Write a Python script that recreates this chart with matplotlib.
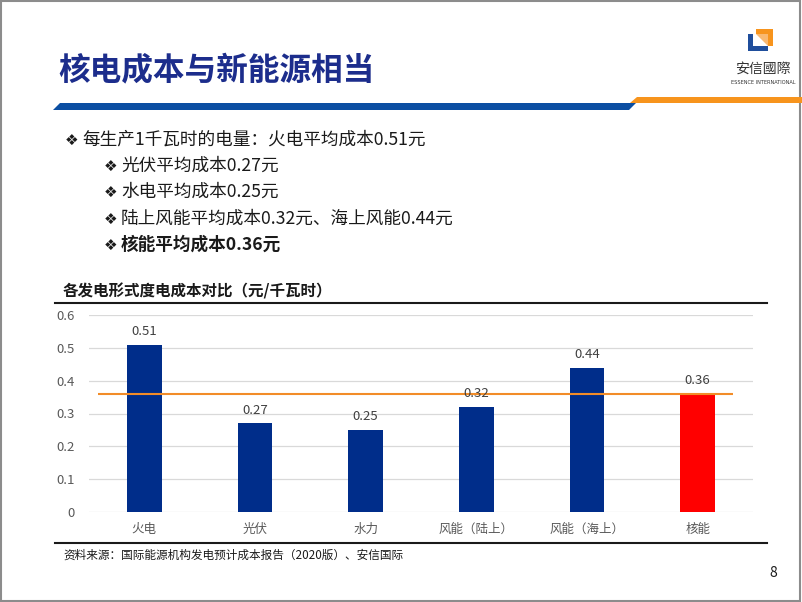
import matplotlib
matplotlib.use('Agg')
import matplotlib.pyplot as plt
from matplotlib.patches import Polygon, Rectangle

plt.rcParams['font.family'] = ['Noto Sans CJK SC', 'DejaVu Sans']

# data
categories = ['火电', '光伏', '水力', '风能（陆上）', '风能（海上）', '核能']
costs = [0.51, 0.27, 0.25, 0.32, 0.44, 0.36]
bar_colors = ['#002D8A'] * 5 + ['#FF0000']
y_ticks = [0, 0.1, 0.2, 0.3, 0.4, 0.5, 0.6]
ref_value = costs[categories.index('核能')]

title = '核电成本与新能源相当'
chart_title = '各发电形式度电成本对比（元/千瓦时）'
source = '资料来源：国际能源机构发电预计成本报告（2020版）、安信国际'
bullets = [
    ('每生产1千瓦时的电量：火电平均成本0.51元', 0, 'normal'),
    ('光伏平均成本0.27元', 1, 'normal'),
    ('水电平均成本0.25元', 1, 'normal'),
    ('陆上风能平均成本0.32元、海上风能0.44元', 1, 'normal'),
    ('核能平均成本0.36元', 1, 'bold'),
]

W, H = 802, 602
fig = plt.figure(figsize=(W / 100, H / 100), dpi=100)


def fx(x):
    return x / W


def fy(y):
    return 1 - y / H


def poly(pts, color):
    fig.patches.append(Polygon([(fx(x), fy(y)) for x, y in pts], closed=True,
                               transform=fig.transFigure, facecolor=color,
                               edgecolor='none'))


# slide frame
fig.patches.append(Rectangle((0.001, 0.001), 0.997, 0.997, transform=fig.transFigure,
                             fill=False, edgecolor='#8C8C8C', linewidth=1.5))

# header
fig.text(fx(58), fy(70), title, fontsize=22.8, fontweight='bold', color='#1C2D8C',
         va='center', ha='left')
poly([(53, 110), (60, 103), (636, 103), (629, 110)], '#0B4EA2')
poly([(630, 103), (637, 97), (802, 97), (802, 103)], '#F7941D')

# logo
poly([(748, 34), (753, 34), (753, 46), (768, 46), (768, 51), (748, 51)], '#1F4E9C')
poly([(756, 29), (773, 29), (773, 46), (768, 46), (768, 34), (756, 34)], '#F7941D')
poly([(756, 34), (768, 34), (768, 46)], '#F9B870')
fig.text(fx(763), fy(69), '安信國際', fontsize=10, color='#333333', ha='center', va='center')
fig.text(fx(763), fy(82), 'ESSENCE INTERNATIONAL', fontsize=3.6, color='#333333',
         ha='center', va='center', family='DejaVu Sans')

# bullets
line_y = [140, 166, 192, 219, 245]
for (txt, lvl, wt), y in zip(bullets, line_y):
    x0 = 65 if lvl == 0 else 104
    fig.text(fx(x0), fy(y), '❖', fontsize=11, color='#1a1a1a', va='center', ha='left',
             family=['DejaVu Sans'])
    fig.text(fx(x0 + 17), fy(y), txt, fontsize=12.7, fontweight=wt, color='#1a1a1a',
             va='center', ha='left')

# chart title and rules
fig.text(fx(63), fy(291), chart_title, fontsize=11.2, fontweight='bold', color='#1a1a1a',
         va='center', ha='left')
fig.add_artist(plt.Line2D([fx(55), fx(767)], [fy(303), fy(303)], color='#1a1a1a',
                          linewidth=1.5, transform=fig.transFigure))
fig.add_artist(plt.Line2D([fx(55), fx(767)], [fy(543), fy(543)], color='#1a1a1a',
                          linewidth=1.5, transform=fig.transFigure))
fig.text(fx(63), fy(555), source, fontsize=8.4, color='#1a1a1a', va='center', ha='left')
fig.text(fx(773), fy(573), '8', fontsize=10, color='#1a1a1a', va='center', ha='center')

# chart
ax = fig.add_axes([fx(89), fy(512), fx(753) - fx(89), fy(315) - fy(512)])
x = list(range(len(categories)))
ax.bar(x, costs, width=0.316, color=bar_colors, zorder=2)
for xi, v in zip(x, costs):
    ax.text(xi, v + 0.02, f'{v:.2f}', ha='center', va='bottom', fontsize=9.5,
            color='#404040', zorder=4)
ax.hlines(ref_value, -0.42, 5.32, color='#F28C28', linewidth=1.5, zorder=3)

ax.set_xlim(-0.5, len(categories) - 0.5)
ax.set_ylim(0, 0.6)
ax.set_yticks(y_ticks)
ax.set_yticklabels([f'{t:g}' for t in y_ticks])
ax.set_xticks(x)
ax.set_xticklabels(categories)
ax.tick_params(axis='y', length=0, pad=10, labelsize=9.5, labelcolor='#595959')
ax.tick_params(axis='x', length=0, pad=8, labelsize=9, labelcolor='#595959')
ax.grid(axis='y', color='#D9D9D9', linewidth=0.9, zorder=0)
ax.set_axisbelow(True)
for s in ax.spines.values():
    s.set_visible(False)

fig.savefig('out.png', dpi=100)
